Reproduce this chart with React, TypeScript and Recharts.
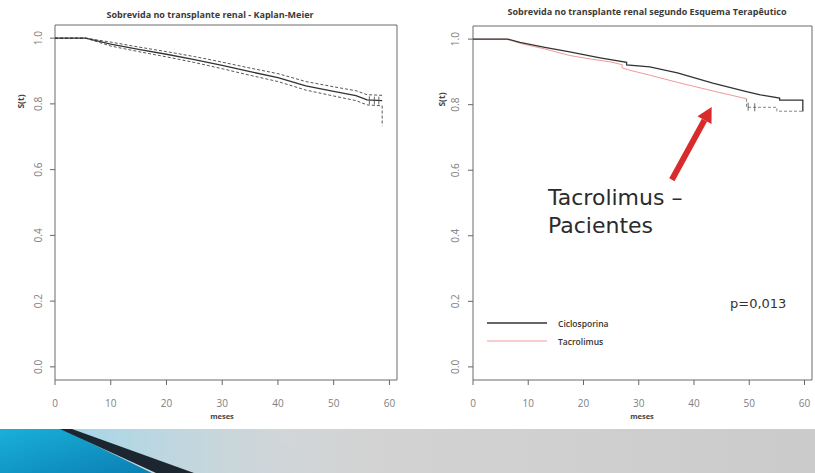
import React from "react";
import {
  LineChart,
  Line,
  XAxis,
  YAxis,
  ReferenceArea,
  ReferenceLine,
  Scatter,
} from "recharts";

// meses / S(t)
const X_TICKS = [0, 10, 20, 30, 40, 50, 60];
const Y_TICKS = [0, 0.2, 0.4, 0.6, 0.8, 1.0];

// Kaplan-Meier global
const KM_EST = [
  { t: 0, s: 1 }, { t: 5.5, s: 1 }, { t: 10, s: 0.982 }, { t: 15, s: 0.966 },
  { t: 20, s: 0.951 }, { t: 25, s: 0.935 }, { t: 30, s: 0.917 }, { t: 35, s: 0.898 },
  { t: 40, s: 0.88 }, { t: 45, s: 0.855 }, { t: 50, s: 0.838 }, { t: 54, s: 0.825 },
  { t: 56, s: 0.812 }, { t: 58.7, s: 0.81 },
];
const KM_UPPER = [
  { t: 0, s: 1 }, { t: 5.5, s: 1 }, { t: 10, s: 0.988 }, { t: 15, s: 0.973 },
  { t: 20, s: 0.959 }, { t: 25, s: 0.944 }, { t: 30, s: 0.927 }, { t: 35, s: 0.909 },
  { t: 40, s: 0.892 }, { t: 45, s: 0.868 }, { t: 50, s: 0.852 }, { t: 54, s: 0.84 },
  { t: 56, s: 0.828 }, { t: 58.7, s: 0.826 },
];
const KM_LOWER = [
  { t: 0, s: 1 }, { t: 5.5, s: 1 }, { t: 10, s: 0.976 }, { t: 15, s: 0.959 },
  { t: 20, s: 0.943 }, { t: 25, s: 0.926 }, { t: 30, s: 0.907 }, { t: 35, s: 0.887 },
  { t: 40, s: 0.868 }, { t: 45, s: 0.842 }, { t: 50, s: 0.824 }, { t: 54, s: 0.81 },
  { t: 56, s: 0.797 }, { t: 58.7, s: 0.794 }, { t: 58.7, s: 0.733 },
];
const KM_CENSOR = [
  { t: 56.4, s: 0.811 }, { t: 57.3, s: 0.81 }, { t: 58.1, s: 0.81 },
];

// segundo esquema terapeutico
const CICLO = [
  { t: 0, s: 1 }, { t: 6.3, s: 1 }, { t: 8.5, s: 0.99 }, { t: 13, s: 0.975 },
  { t: 17.5, s: 0.961 }, { t: 23, s: 0.943 }, { t: 27.8, s: 0.929 }, { t: 27.8, s: 0.921 },
  { t: 32, s: 0.915 }, { t: 37, s: 0.897 }, { t: 43.4, s: 0.866 }, { t: 49.5, s: 0.84 },
  { t: 52, s: 0.83 }, { t: 55.5, s: 0.82 }, { t: 55.5, s: 0.814 }, { t: 59.7, s: 0.814 },
  { t: 59.7, s: 0.779 },
];
const TACRO = [
  { t: 0, s: 1 }, { t: 6, s: 1 }, { t: 9, s: 0.985 }, { t: 13, s: 0.97 },
  { t: 17.5, s: 0.95 }, { t: 21, s: 0.94 }, { t: 25, s: 0.93 }, { t: 27, s: 0.922 },
  { t: 27, s: 0.912 }, { t: 28.4, s: 0.905 }, { t: 32, s: 0.89 }, { t: 37, s: 0.868 },
  { t: 43.4, s: 0.842 }, { t: 49.5, s: 0.818 },
];
const TACRO_TAIL = [
  { t: 49.5, s: 0.818 }, { t: 49.5, s: 0.792 }, { t: 55, s: 0.792 }, { t: 55, s: 0.78 },
  { t: 59.7, s: 0.78 },
];
const TACRO_CENSOR = [{ t: 49.8, s: 0.794 }, { t: 51, s: 0.792 }];

const LEGEND = [
  { label: "Ciclosporina", color: "#333", w: 1.3 },
  { label: "Tacrolimus", color: "#ef9a9a", w: 1 },
];

const ARROW = [{ x: 36, y: 0.571 }, { x: 43.2, y: 0.793 }];

const X_DOMAIN: [number, number] = [0, 61.36];
const Y_DOMAIN: [number, number] = [-0.04, 1.04];

const R_FONT = "'Open Sans', 'DejaVu Sans', sans-serif";

function YTick({ x, y, payload, shift }: any) {
  const cx = x - shift;
  return (
    <text
      x={cx}
      y={y}
      transform={`rotate(-90 ${cx} ${y})`}
      textAnchor="middle"
      dominantBaseline="central"
      fontSize={10}
      fill="#808080"
      fontFamily={R_FONT}
    >
      {Number(payload.value).toFixed(1)}
    </text>
  );
}

function XTick({ x, y, payload }: any) {
  return (
    <text x={x} y={y + 20} textAnchor="middle" fontSize={10} fill="#808080" fontFamily={R_FONT}>
      {payload.value}
    </text>
  );
}

function CensorMark(props: any) {
  const { cx, cy } = props;
  return <line x1={cx} x2={cx} y1={cy - 4} y2={cy + 4} stroke="#555" strokeWidth={0.9} />;
}

function Arrow(props: any) {
  const { x1, y1, x2, y2 } = props;
  const ang = Math.atan2(y2 - y1, x2 - x1);
  const len = 15;
  const half = 8;
  const bx = x2 - Math.cos(ang) * len;
  const by = y2 - Math.sin(ang) * len;
  const nx = -Math.sin(ang);
  const ny = Math.cos(ang);
  return (
    <g>
      <line x1={x1} y1={y1} x2={bx} y2={by} stroke="#d92b2b" strokeWidth={6} />
      <polygon
        points={`${x2},${y2} ${bx + nx * half},${by + ny * half} ${bx - nx * half},${by - ny * half}`}
        fill="#d92b2b"
      />
    </g>
  );
}

const abs = (s: React.CSSProperties): React.CSSProperties => ({ position: "absolute", ...s });

export default function App() {
  const xAxis = (
    <XAxis
      type="number"
      dataKey="t"
      domain={X_DOMAIN}
      ticks={X_TICKS}
      allowDataOverflow
      axisLine={false}
      tickSize={5}
      tickLine={{ stroke: "#666" }}
      height={30}
      tick={<XTick />}
    />
  );
  const yAxis = (shift: number) => (
    <YAxis
      type="number"
      dataKey="s"
      domain={Y_DOMAIN}
      ticks={Y_TICKS}
      allowDataOverflow
      axisLine={false}
      tickSize={5}
      tickLine={{ stroke: "#666" }}
      width={30}
      tick={<YTick shift={shift} />}
    />
  );
  return (
    <div style={abs({ left: 0, top: 0, width: 815, height: 473, background: "#fff", overflow: "hidden" })}>
      {/* left panel */}
      <div style={abs({ left: 0, top: 0 })}>
        <LineChart width={410} height={430} margin={{ top: 25, right: 13, bottom: 20, left: 25 }}>
          {xAxis}
          {yAxis(10)}
          <ReferenceArea x1={0} x2={61.36} y1={-0.04} y2={1.04} fill="none" stroke="#6a6a6a" strokeWidth={1} ifOverflow="visible" />
          <Line data={KM_UPPER} dataKey="s" type="linear" stroke="#444" strokeWidth={0.9} strokeDasharray="3 2" dot={false} isAnimationActive={false} />
          <Line data={KM_LOWER} dataKey="s" type="linear" stroke="#444" strokeWidth={0.9} strokeDasharray="3 2" dot={false} isAnimationActive={false} />
          <Line data={KM_EST} dataKey="s" type="linear" stroke="#333" strokeWidth={1.3} dot={false} isAnimationActive={false} />
          <Scatter data={KM_CENSOR} dataKey="s" shape={<CensorMark />} isAnimationActive={false} />
        </LineChart>
      </div>

      {/* right panel */}
      <div style={abs({ left: 410, top: 0 })}>
        <LineChart width={405} height={430} margin={{ top: 26, right: 3, bottom: 20, left: 33 }}>
          {xAxis}
          {yAxis(11)}
          <ReferenceArea x1={0} x2={61.36} y1={-0.04} y2={1.04} fill="none" stroke="#6a6a6a" strokeWidth={1} ifOverflow="visible" />
          <Line data={TACRO_TAIL} dataKey="s" type="linear" stroke="#777" strokeWidth={0.9} strokeDasharray="3 2" dot={false} isAnimationActive={false} />
          <Line data={TACRO} dataKey="s" type="linear" stroke="#ef9a9a" strokeWidth={1} dot={false} isAnimationActive={false} />
          <Line data={CICLO} dataKey="s" type="linear" stroke="#333" strokeWidth={1.3} dot={false} isAnimationActive={false} />
          <Scatter data={TACRO_CENSOR} dataKey="s" shape={<CensorMark />} isAnimationActive={false} />
          <ReferenceLine segment={ARROW} shape={<Arrow />} ifOverflow="visible" />
        </LineChart>
      </div>

      {/* legend of right panel */}
      <div style={abs({ left: 487, top: 314 })}>
        {LEGEND.map((it) => (
          <div key={it.label} style={{ display: "flex", alignItems: "center", height: 18 }}>
            <svg width={71} height={4}>
              <line x1={0} x2={60} y1={2} y2={2} stroke={it.color} strokeWidth={it.w} />
            </svg>
            <span style={{ fontFamily: R_FONT, fontSize: 8.5, fontWeight: 600, color: "#333" }}>
              {it.label}
            </span>
          </div>
        ))}
      </div>

      {/* titles and axis labels */}
      <div style={abs({ left: 0, top: 8, width: 420, textAlign: "center", fontFamily: R_FONT, fontSize: 9, fontWeight: 700, color: "#3a3a3a" })}>
        Sobrevida no transplante renal - Kaplan-Meier
      </div>
      <div style={abs({ left: 437, top: 5, width: 420, textAlign: "center", fontFamily: R_FONT, fontSize: 9, fontWeight: 700, color: "#3a3a3a" })}>
        Sobrevida no transplante renal segundo Esquema Terapêutico
      </div>
      <div style={abs({ left: 192, top: 411, width: 60, textAlign: "center", fontFamily: R_FONT, fontSize: 7.5, fontWeight: 700, color: "#444" })}>
        meses
      </div>
      <div style={abs({ left: 612, top: 411, width: 60, textAlign: "center", fontFamily: R_FONT, fontSize: 7.5, fontWeight: 700, color: "#444" })}>
        meses
      </div>
      <div style={abs({ left: 0, top: 96, width: 40, textAlign: "center", transform: "rotate(-90deg)", fontFamily: R_FONT, fontSize: 8.5, fontWeight: 700, color: "#444" })}>
        S(t)
      </div>
      <div style={abs({ left: 421, top: 94, width: 40, textAlign: "center", transform: "rotate(-90deg)", fontFamily: R_FONT, fontSize: 8.5, fontWeight: 700, color: "#444" })}>
        S(t)
      </div>
      <div style={abs({ left: 730, top: 296, fontFamily: "'DejaVu Sans', sans-serif", fontSize: 13, color: "#333" })}>
        p=0,013
      </div>
      <div style={abs({ left: 548, top: 184, fontFamily: "'DejaVu Sans', sans-serif", fontSize: 22, lineHeight: "28px", color: "#2b2b2b" })}>
        Tacrolimus –<br />Pacientes
      </div>

      {/* slide banner */}
      <svg style={abs({ left: 0, top: 429 })} width={815} height={44}>
        <defs>
          <linearGradient id="bg" x1="0" x2="1" y1="0" y2="0">
            <stop offset="0" stopColor="#c9dfe8" />
            <stop offset="0.45" stopColor="#d3d3d3" />
            <stop offset="1" stopColor="#cbcbcb" />
          </linearGradient>
          <linearGradient id="blue" x1="0" x2="1" y1="0" y2="1">
            <stop offset="0" stopColor="#1ab0d8" />
            <stop offset="1" stopColor="#0a7fb3" />
          </linearGradient>
          <linearGradient id="cyan" x1="0" x2="1" y1="0" y2="0">
            <stop offset="0" stopColor="#9fd6ea" />
            <stop offset="1" stopColor="#d3d3d3" stopOpacity={0} />
          </linearGradient>
        </defs>
        <rect x={0} y={0} width={815} height={44} fill="url(#bg)" />
        <polygon points="62,0 260,0 330,44 160,44" fill="url(#cyan)" />
        <polygon points="0,0 62,0 152,44 0,44" fill="url(#blue)" />
        <polygon points="60,0 72,0 194,44 156,44" fill="#1c2630" />
      </svg>
    </div>
  );
}
